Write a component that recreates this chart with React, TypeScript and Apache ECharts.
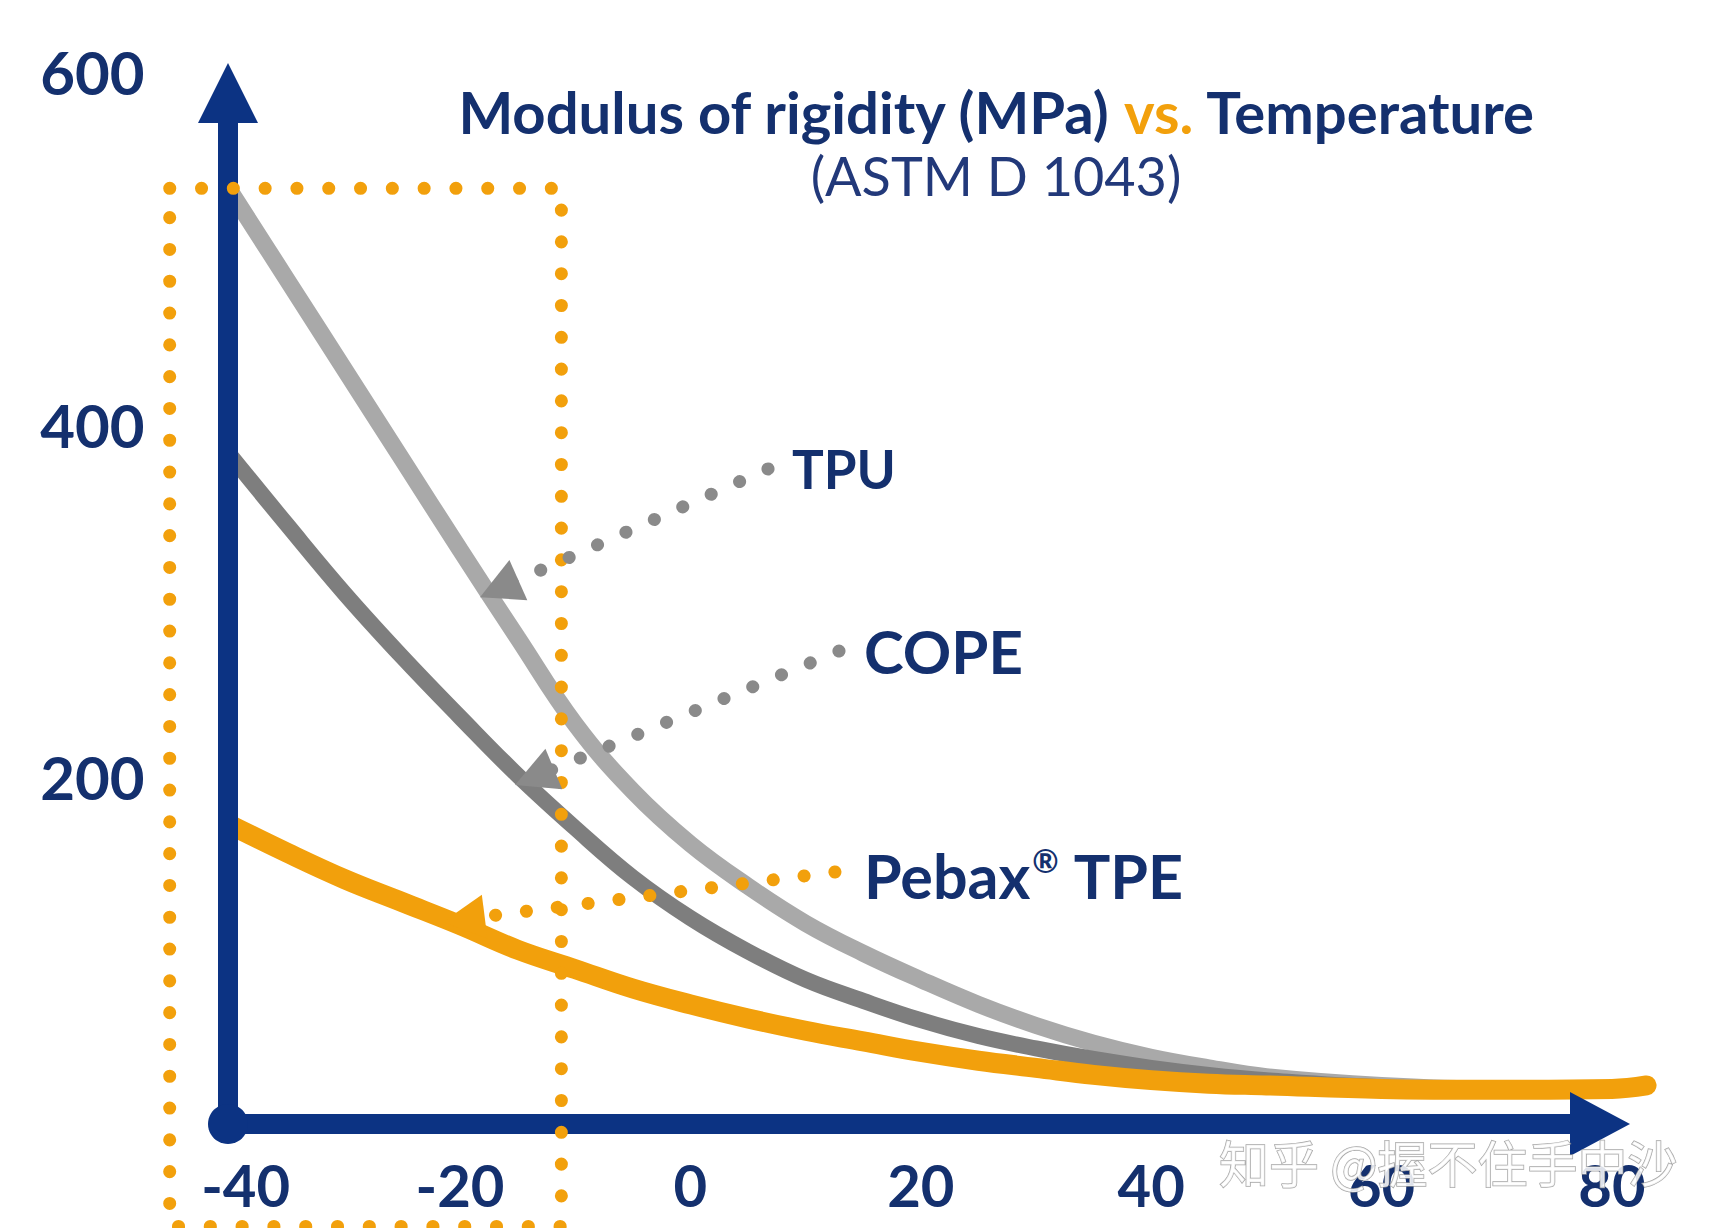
import React, { useEffect, useRef } from "react";
import * as echarts from "echarts";

// ---- data ----
const TEMPS = [-40, -35, -30, -25, -20, -15, -10, -5, 0, 5, 10, 15, 20, 25, 30, 35, 40, 45, 50, 60, 70, 80];
const TPU = [533, 482, 431, 380, 329, 279, 230, 192, 162, 138, 117, 100, 85, 71, 59, 49, 41, 35, 30, 25, 23, 23];
const COPE = [383, 343, 304, 268, 234, 201, 171, 143, 120, 101, 85, 73, 62, 53, 46, 40, 35, 31, 28, 24, 23, 23];
const PEBAX_TEMPS = [...TEMPS, 83];
const PEBAX = [173, 157, 142, 129, 116, 102, 91, 80, 71, 63, 56, 50, 44, 39, 35, 31, 28, 26, 25, 23, 22.5, 23, 25];

// value axis extents (labels shown only on the ticks of X_LABELS / Y_LABELS)
const X_MIN = -50;
const X_MAX = 90;
const X_STEP = 10;
const X_LABELS = [-40, -20, 0, 20, 40, 60, 80];
const Y_MIN = 0;
const Y_MAX = 600;
const Y_STEP = 200;
const Y_LABELS = [200, 400, 600];

// highlighted low-temperature window (dotted box), in data units
const BOX_T = [-45.2, -11.2];
const BOX_V = [-55, 534];

// pointer arrows: [from label, to curve], in data units
const TPU_PTR = [[6.74, 374.8], [-16.6, 306.9]];
const COPE_PTR = [[12.9, 271.5], [-13.54, 200.0]];
const PEBAX_PTR = [[12.55, 146.1], [-19.67, 119.3]];

const TITLE_A = "Modulus of rigidity (MPa) ";
const TITLE_VS = "vs.";
const TITLE_B = " Temperature";
const SUBTITLE = "(ASTM D 1043)";
const LABEL_TPU = "TPU";
const LABEL_COPE = "COPE";
const LABEL_PEBAX = ["Pebax", "®", " TPE"];
const WATERMARK = "知乎 @握不住手中沙";

// ---- styles ----
const NAVY = "#0c3383";
const TEXT_NAVY = "#14306e";
const ORANGE = "#f2a00c";
const LIGHT_GRAY = "#a9a9a9";
const DARK_GRAY = "#7e7e7e";
const PTR_GRAY = "#8a8a8a";
const FONT = "Lato, 'Open Sans', sans-serif";

function pairs(xs: number[], ys: number[]) {
  return xs.map((x, i) => [x, ys[i]]);
}

function pointer(ptr: number[][], color: string, size: number[]) {
  return {
    silent: true,
    symbol: ["none", "triangle"],
    symbolSize: size,
    label: { show: false },
    emphasis: { disabled: true },
    lineStyle: { color, width: 13, type: [0.1, 31], cap: "round", opacity: 1 },
    data: [[{ coord: ptr[0] }, { coord: ptr[1] }]],
    animation: false,
  };
}

export default function App() {
  const ref = useRef<HTMLDivElement>(null);

  useEffect(() => {
    const chart = echarts.init(ref.current!, null, { renderer: "svg" });
    const boxData = [
      [BOX_T[0], BOX_V[1]],
      [BOX_T[1], BOX_V[1]],
      [BOX_T[1], BOX_V[0]],
      [BOX_T[0], BOX_V[0]],
      [BOX_T[0], BOX_V[1]],
    ];
    const option: any = {
      animation: false,
      backgroundColor: "#ffffff",
      grid: [
        { left: 114.4, right: 6.8, top: 72, bottom: 98.5, containLabel: false },
        { left: 228, right: 134, top: 93, bottom: 104, containLabel: false },
      ],
      xAxis: [
        {
          gridIndex: 0,
          type: "value",
          min: X_MIN,
          max: X_MAX,
          interval: X_STEP,
          axisLine: { show: false, onZero: false },
          axisTick: { show: false },
          splitLine: { show: false },
          axisLabel: {
            margin: 26,
            color: TEXT_NAVY,
            fontFamily: FONT,
            fontWeight: "bold",
            fontSize: 58,
            formatter: (v: number) => {
              if (X_LABELS.indexOf(v) < 0) return "";
              return v === X_LABELS[0] ? `{m|${v}}` : `${v}`;
            },
            rich: {
              m: {
                padding: [0, 0, 0, 32],
                color: TEXT_NAVY,
                fontFamily: FONT,
                fontWeight: "bold",
                fontSize: 58,
              },
            },
          },
        },
        {
          gridIndex: 1,
          type: "value",
          min: 0,
          max: 1,
          z: 3,
          axisLine: {
            show: true,
            onZero: false,
            lineStyle: { color: NAVY, width: 20 },
            symbol: ["none", "triangle"],
            symbolSize: [64, 60],
          },
          axisTick: { show: false },
          axisLabel: { show: false },
          splitLine: { show: false },
        },
      ],
      yAxis: [
        {
          gridIndex: 0,
          type: "value",
          min: Y_MIN,
          max: Y_MAX,
          interval: Y_STEP,
          offset: -115.2,
          axisLine: { show: false, onZero: false },
          axisTick: { show: false },
          splitLine: { show: false },
          axisLabel: {
            margin: 85,
            color: TEXT_NAVY,
            fontFamily: FONT,
            fontWeight: "bold",
            fontSize: 60,
            formatter: (v: number) => (Y_LABELS.indexOf(v) < 0 ? "" : `${v}`),
          },
        },
        {
          gridIndex: 1,
          type: "value",
          min: 0,
          max: 1,
          z: 3,
          axisLine: {
            show: true,
            onZero: false,
            lineStyle: { color: NAVY, width: 20 },
            symbol: ["none", "triangle"],
            symbolSize: [60, 60],
          },
          axisTick: { show: false },
          axisLabel: { show: false },
          splitLine: { show: false },
        },
      ],
      series: [
        {
          name: "TPU",
          type: "line",
          xAxisIndex: 0,
          yAxisIndex: 0,
          data: pairs(TEMPS, TPU),
          symbol: "none",
          smooth: 0.4,
          clip: false,
          z: 2,
          lineStyle: { color: LIGHT_GRAY, width: 17, cap: "butt" },
          markLine: pointer(TPU_PTR, PTR_GRAY, [44, 42]),
        },
        {
          name: "COPE",
          type: "line",
          xAxisIndex: 0,
          yAxisIndex: 0,
          data: pairs(TEMPS, COPE),
          symbol: "none",
          smooth: 0.4,
          clip: false,
          z: 2,
          lineStyle: { color: DARK_GRAY, width: 16, cap: "butt" },
          markLine: pointer(COPE_PTR, PTR_GRAY, [44, 42]),
        },
        {
          name: "Pebax TPE",
          type: "line",
          xAxisIndex: 0,
          yAxisIndex: 0,
          data: pairs(PEBAX_TEMPS, PEBAX),
          symbol: "none",
          smooth: 0.4,
          clip: false,
          z: 2,
          lineStyle: { color: ORANGE, width: 20, cap: "round" },
          markLine: pointer(PEBAX_PTR, ORANGE, [44, 42]),
        },
        {
          name: "window",
          type: "line",
          xAxisIndex: 0,
          yAxisIndex: 0,
          data: boxData,
          symbol: "none",
          clip: false,
          silent: true,
          z: 4,
          lineStyle: { color: ORANGE, width: 13, type: [0.1, 31.7], cap: "round" },
        },
        {
          name: "origin",
          type: "scatter",
          xAxisIndex: 1,
          yAxisIndex: 1,
          data: [[0, 0]],
          symbol: "circle",
          symbolSize: 40,
          clip: false,
          silent: true,
          z: 3,
          itemStyle: { color: NAVY, opacity: 1 },
        },
      ],
      graphic: [
        {
          type: "text",
          x: 996,
          y: 111,
          z: 10,
          style: {
            text: `{a|${TITLE_A}}{b|${TITLE_VS}}{a|${TITLE_B}}`,
            align: "center",
            verticalAlign: "middle",
            rich: {
              a: { fontFamily: FONT, fontWeight: "bold", fontSize: 58, fill: TEXT_NAVY },
              b: { fontFamily: FONT, fontWeight: "bold", fontSize: 58, fill: ORANGE },
            },
          },
        },
        {
          type: "text",
          x: 996,
          y: 175,
          z: 10,
          style: {
            text: SUBTITLE,
            align: "center",
            verticalAlign: "middle",
            fontFamily: FONT,
            fontWeight: "normal",
            fontSize: 54,
            fill: "#22397a",
          },
        },
        {
          type: "text",
          x: 792,
          y: 468,
          z: 10,
          style: {
            text: LABEL_TPU,
            align: "left",
            verticalAlign: "middle",
            fontFamily: FONT,
            fontWeight: "bold",
            fontSize: 53,
            fill: TEXT_NAVY,
          },
        },
        {
          type: "text",
          x: 864,
          y: 651,
          z: 10,
          style: {
            text: LABEL_COPE,
            align: "left",
            verticalAlign: "middle",
            fontFamily: FONT,
            fontWeight: "bold",
            fontSize: 60,
            fill: TEXT_NAVY,
          },
        },
        {
          type: "text",
          x: 864,
          y: 875,
          z: 10,
          style: {
            text: `{n|${LABEL_PEBAX[0]}}{r|${LABEL_PEBAX[1]}}{n|${LABEL_PEBAX[2]}}`,
            align: "left",
            verticalAlign: "middle",
            rich: {
              n: { fontFamily: FONT, fontWeight: "bold", fontSize: 61, fill: TEXT_NAVY },
              r: {
                fontFamily: FONT,
                fontWeight: "bold",
                fontSize: 32,
                fill: TEXT_NAVY,
                verticalAlign: "top",
                padding: [0, 2, 22, 2],
              },
            },
          },
        },
        {
          type: "text",
          x: 1219,
          y: 1161,
          z: 20,
          style: {
            text: WATERMARK,
            align: "left",
            verticalAlign: "middle",
            fontFamily: "'Noto Sans CJK SC', sans-serif",
            fontSize: 50,
            fill: "rgba(255,255,255,0.85)",
            stroke: "rgba(150,150,150,0.85)",
            lineWidth: 1.5,
          },
        },
      ],
    };
    chart.setOption(option);
    return () => chart.dispose();
  }, []);

  return (
    <div
      ref={ref}
      style={{ position: "absolute", left: 0, top: 0, width: 1734, height: 1228, background: "#ffffff" }}
    />
  );
}
